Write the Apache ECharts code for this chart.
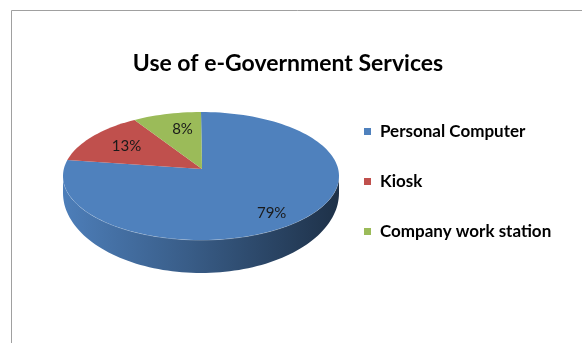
<!DOCTYPE html>
<html><head><meta charset="utf-8">
<script src="https://cdn.jsdelivr.net/npm/echarts@6/dist/echarts.min.js"></script>
<style>html,body{margin:0;padding:0;background:#fff}#chart{width:582px;height:343px}</style>
</head><body><div id="chart"></div>
<script>
const categories = ['Personal Computer', 'Kiosk', 'Company work station'];
const shares = [79, 13, 8];
const sliceColors = ['#4f81bd', '#c0504d', '#9bbb59'];

// tilted disc geometry
const CX = 201, CY = 176, RX = 138, RY = 64;   // top face ellipse
const AX = 202, AY = 169;                       // where the slice edges meet
const BCY = 193, BRY = 80;                      // lower rim ellipse
const LABEL_F = 0.75;

const total = shares.reduce((a, b) => a + b, 0);
const starts = shares.map((_, i) => shares.slice(0, i).reduce((a, b) => a + b, 0));

function topPt(deg) { const r = deg * Math.PI / 180; return [CX + RX * Math.sin(r), CY - RY * Math.cos(r)]; }
function botPt(deg) { const r = deg * Math.PI / 180; return [CX + RX * Math.sin(r), BCY - BRY * Math.cos(r)]; }
function arc(fn, a0, a1) {
  const pts = [], n = Math.max(2, Math.ceil(Math.abs(a1 - a0) / 2));
  for (let i = 0; i <= n; i++) pts.push(fn(a0 + (a1 - a0) * i / n));
  return pts;
}
function shade(hex, f) {
  const n = parseInt(hex.slice(1), 16);
  const c = [(n >> 16) & 255, (n >> 8) & 255, n & 255].map(v => Math.round(v * f));
  return 'rgb(' + c.join(',') + ')';
}

function renderSlice(params, api) {
  const value = api.value(0), before = api.value(1);
  const a0 = before / total * 360, a1 = (before + value) / total * 360;
  const color = api.visual('color');
  const children = [];
  // front wall: the part of the slice facing the viewer (90°..270°)
  const s0 = Math.max(a0, 90), s1 = Math.min(a1, 270);
  if (s1 > s0) {
    const pts = arc(topPt, s0, s1).concat(arc(botPt, s1, s0));
    children.push({
      type: 'polygon', z2: 1, shape: { points: pts },
      style: {
        fill: new echarts.graphic.LinearGradient(0, 0, 1, 0, [
          { offset: 0, color: shade(color, 0.98) },
          { offset: 0.45, color: shade(color, 0.72) },
          { offset: 1, color: shade(color, 0.38) }
        ])
      }
    });
    children.push({
      type: 'polyline', z2: 2, shape: { points: arc(topPt, s0, s1) },
      style: { stroke: 'rgba(255,255,255,0.35)', lineWidth: 1, fill: null }
    });
  }
  // top face
  const face = [[AX, AY]].concat(arc(topPt, a0, a1));
  children.push({ type: 'polygon', z2: 3, shape: { points: face }, style: { fill: color } });
  // value label
  const mid = (a0 + a1) / 2, p = topPt(mid);
  children.push({
    type: 'text', z2: 4,
    x: AX + (p[0] - AX) * LABEL_F + 7, y: AY + (p[1] - AY) * LABEL_F + 1,
    style: {
      text: value + '%', fill: '#1a1a1a', font: '15px Lato',
      align: 'center', verticalAlign: 'middle'
    }
  });
  return { type: 'group', children };
}

const chart = echarts.init(document.getElementById('chart'), null, { renderer: 'canvas' });
chart.setOption({
  animation: false,
  backgroundColor: '#fff',
  title: {
    text: 'Use of e-Government Services',
    left: 288, top: 52, padding: 0, textAlign: 'center',
    textStyle: { fontFamily: 'Lato', fontWeight: 'bold', fontSize: 23, color: '#000' }
  },
  legend: {
    orient: 'vertical', left: 364, top: 123, padding: 0,
    icon: 'rect', itemWidth: 7, itemHeight: 7, itemGap: 33,
    data: categories,
    textStyle: { fontFamily: 'Lato', fontWeight: 'bold', fontSize: 17, color: '#000', padding: [0, 0, 0, 4] }
  },
  graphic: [{
    type: 'rect', shape: { x: 11.5, y: 10.5, width: 700, height: 500 },
    style: { fill: null, stroke: '#a0a0a0', lineWidth: 1 }, silent: true
  }],
  series: categories.map((name, i) => ({
    type: 'custom', name, coordinateSystem: 'none',
    itemStyle: { color: sliceColors[i] },
    renderItem: renderSlice,
    data: [[shares[i], starts[i]]]
  }))
});
</script></body></html>
